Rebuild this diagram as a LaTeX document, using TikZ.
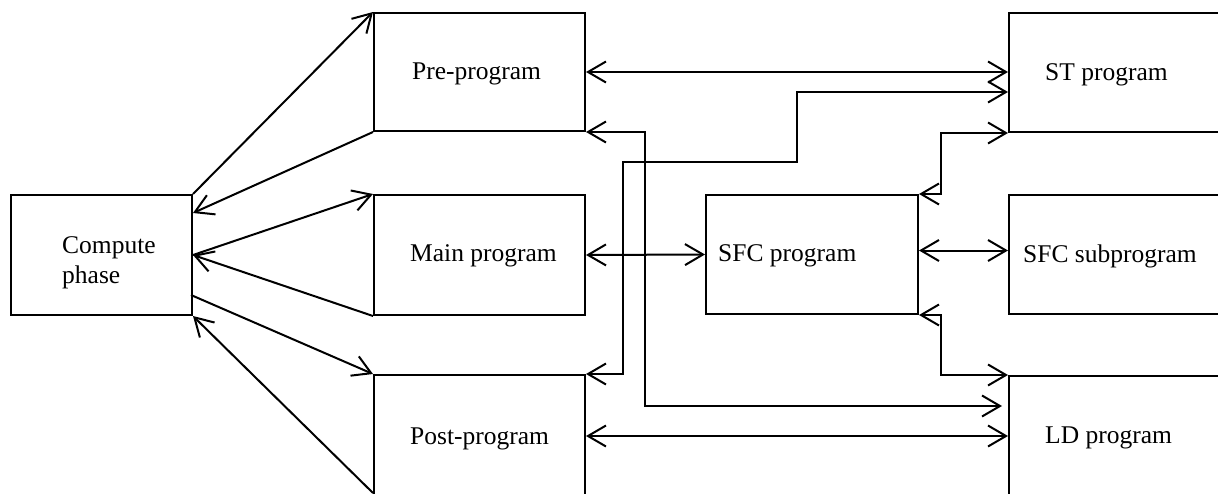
\documentclass[tikz,border=0pt]{standalone}
\usepackage{fontspec}
\setmainfont{Liberation Serif}
\usetikzlibrary{arrows.meta,calc}
\begin{document}
\begin{tikzpicture}[x=1pt,y=-1pt,
  box/.style={draw, line width=2pt, rectangle, inner sep=0pt, anchor=north west},
  txt/.style={inner sep=0pt, font=\fontsize{25.5}{30}\selectfont},
  conn/.style={line width=2pt, -{Straight Barb[length=18pt,width=21pt]}},
  conntwo/.style={line width=2pt, {Straight Barb[length=18pt,width=21pt]}-{Straight Barb[length=18pt,width=21pt]}}]
\useasboundingbox (0,0) rectangle (1218,493);
% boxes
\node[box, minimum width=181pt, minimum height=120pt] (comp) at (10,194) {};
\node[box, minimum width=211pt, minimum height=118pt] (pre) at (373,12) {};
\node[box, minimum width=211pt, minimum height=120pt] (main) at (373,194) {};
\node[box, minimum width=211pt, minimum height=150pt] (post) at (373,374) {};
\node[box, minimum width=240pt, minimum height=119pt] (st) at (1008,12) {};
\node[box, minimum width=212pt, minimum height=119pt] (sfc) at (705,194) {};
\node[box, minimum width=240pt, minimum height=119pt] (sub) at (1008,194) {};
\node[box, minimum width=240pt, minimum height=150pt] (ld) at (1008,375) {};
% texts
\node[txt, anchor=base west, align=left] (tcomp) at (62,283) {Compute\\phase};
\node[txt, anchor=base west] (tpre) at (412,79) {Pre-program};
\node[txt, anchor=base west] (tmain) at (410,261) {Main program};
\node[txt, anchor=base west] (tpost) at (410,444) {Post-program};
\node[txt, anchor=base west] (tst) at (1045,80) {ST program};
\node[txt, anchor=base west] (tsfc) at (718,261) {SFC program};
\node[txt, anchor=base west] (tsub) at (1023,262) {SFC subprogram};
\node[txt, anchor=base west] (tld) at (1045,443) {LD program};
% connectors: compute phase
\draw[conn] (comp.north east) -- (pre.north west);
\draw[conn] (pre.south west) -- ($(comp.north east)+(0,19)$);
\draw[conn] (comp.east) -- (main.north west);
\draw[conn] (main.south west) -- (comp.east);
\draw[conn] ($(comp.south east)+(-2,-21)$) -- (post.north west);
\coordinate (postbl) at ($(post.north west)+(0,119)$);
\draw[conn] (postbl) -- (comp.south east);
% program links
\draw[conntwo] (pre.east) -- (pre.east -| st.west);
\draw[conntwo] (post.north east) -| (623,162) -| (797,92) -- ($(st.north west)+(0,80)$);
\draw[conntwo] (pre.south east) -| (645,406) -- ($(ld.north west)+(-6,31)$);
\draw[conntwo] ($(post.north east)+(0,62)$) -- ($(ld.north west)+(0,61)$);
\draw[conntwo] (main.east) -- (sfc.west);
\draw[conntwo] (sfc.north east) -- ++(22,0) |- (st.south west);
\draw[conntwo] ($(sfc.east)+(0,-4)$) -- ($(sub.west)+(0,-4)$);
\draw[conntwo] (sfc.south east) -- ++(22,0) |- (ld.north west);
\end{tikzpicture}
\end{document}
